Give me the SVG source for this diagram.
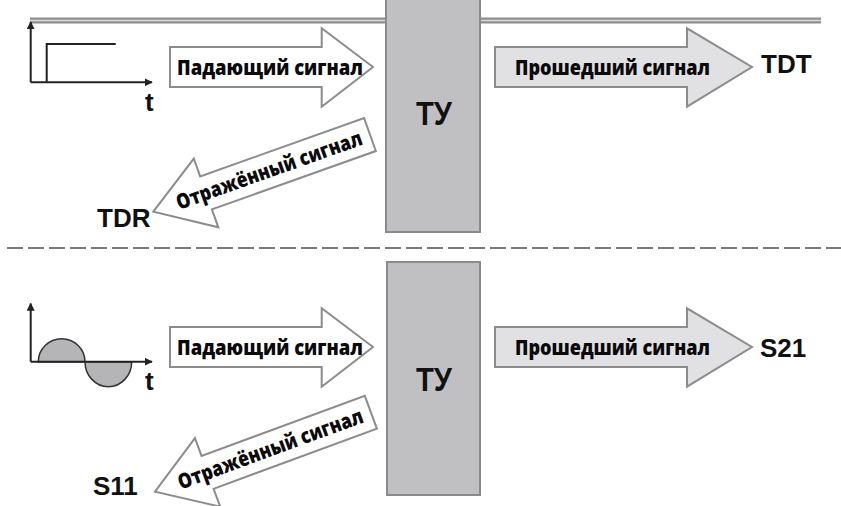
<svg xmlns="http://www.w3.org/2000/svg" width="841" height="506" viewBox="0 0 841 506">
<style>
.box{fill:#c0c0c3;stroke:#8a8a8c;stroke-width:2}
.inc{fill:#ffffff;stroke:#8c8c8c;stroke-width:2;stroke-linejoin:miter}
.trn{fill:#e1e1e3;stroke:#8c8c8c;stroke-width:2;stroke-linejoin:miter}
.lbl{font-family:"Open Sans","Noto Sans","DejaVu Sans",sans-serif;font-weight:800;font-size:21px;fill:#0a0a0a}
.big{font-family:"Liberation Sans",Arial,sans-serif;font-weight:700;font-size:26px;fill:#111}
.tu{font-family:"Liberation Sans",Arial,sans-serif;font-weight:700;font-size:34px;fill:#111}
.ax{fill:none;stroke:#222;stroke-width:2}
.wave{fill:#b5b5b8;stroke:#333;stroke-width:1.5}
</style>
<defs>
<marker id="ah" viewBox="0 0 10 10" refX="9" refY="5" markerWidth="4" markerHeight="4" orient="auto" markerUnits="strokeWidth">
<path d="M0,0 L10,5 L0,10 Z" fill="#222"/>
</marker>
<polygon id="refl" points="0,0 56,-36.5 56,-17.5 230,-17.5 230,17.5 56,17.5 56,36.5"/>
</defs>
<rect width="841" height="506" fill="#ffffff"/>

<g id="line-top">
<line x1="30" y1="20.5" x2="387" y2="20.5" stroke="#8e8e90" stroke-width="6"/>
<line x1="30" y1="20.5" x2="387" y2="20.5" stroke="#dcdcde" stroke-width="1.6"/>
<line x1="480" y1="20.5" x2="821" y2="20.5" stroke="#8e8e90" stroke-width="6"/>
<line x1="480" y1="20.5" x2="821" y2="20.5" stroke="#dcdcde" stroke-width="1.6"/>
</g>
<g id="divider">
<line x1="7" y1="248" x2="841" y2="248" stroke="#7a7a7c" stroke-width="2.2" stroke-dasharray="16 5"/>
</g>

<g id="tu-top">
<rect x="387" y="0" width="93" height="232" fill="#c0c0c3"/>
<path d="M386,0 V232 H480 V0" fill="none" stroke="#8a8a8c" stroke-width="2"/>
<text class="tu" x="434" y="125" text-anchor="middle" textLength="36" lengthAdjust="spacingAndGlyphs">ТУ</text>
</g>
<g id="tu-bottom">
<rect class="box" x="387" y="262" width="93" height="233"/>
<text class="tu" x="434" y="391" text-anchor="middle" textLength="36" lengthAdjust="spacingAndGlyphs">ТУ</text>
</g>

<g id="step-plot">
<path class="ax" d="M30.7,82.3 V22" marker-end="url(#ah)"/>
<path class="ax" d="M30.7,82.3 H152" marker-end="url(#ah)"/>
<path class="ax" d="M46.7,82.3 V44 H115.7"/>
<text class="big" x="145" y="111" font-size="25">t</text>
</g>
<g id="sine-plot">
<path class="wave" d="M38.3,361.7 A23.35,23 0 0 1 85,361.7 Z"/>
<path class="wave" d="M85,361.7 A23.35,25 0 0 0 131.7,361.7 Z"/>
<path class="ax" d="M30.7,361.7 V303.5" marker-end="url(#ah)"/>
<path class="ax" d="M30.7,361.7 H152" marker-end="url(#ah)"/>
<text class="big" x="145" y="390" font-size="25">t</text>
</g>

<g id="connectors">
<g id="inc-top">
<polygon class="inc" points="170,47 321.7,47 321.7,28.3 373,67 321.7,106.7 321.7,87 170,87"/>
<text class="lbl" x="177" y="74.5" textLength="186" lengthAdjust="spacingAndGlyphs">Падающий сигнал</text>
</g>
<g id="trn-top">
<polygon class="trn" points="495,47 687,47 687,28.3 752,67 687,106.7 687,87 495,87"/>
<text class="lbl" x="515" y="74.5" textLength="195" lengthAdjust="spacingAndGlyphs">Прошедший сигнал</text>
</g>
<g id="refl-top" transform="translate(153.3,211.7) rotate(-19.6)">
<use href="#refl" class="inc"/>
<text class="lbl" x="25" y="7" textLength="196" lengthAdjust="spacingAndGlyphs">Отражённый сигнал</text>
</g>
<g id="inc-bottom">
<polygon class="inc" points="170,327 321.7,327 321.7,308.3 373,347 321.7,386.7 321.7,367 170,367"/>
<text class="lbl" x="177" y="354.5" textLength="186" lengthAdjust="spacingAndGlyphs">Падающий сигнал</text>
</g>
<g id="trn-bottom">
<polygon class="trn" points="495,327 687,327 687,308.3 752,347 687,386.7 687,367 495,367"/>
<text class="lbl" x="515" y="354.5" textLength="195" lengthAdjust="spacingAndGlyphs">Прошедший сигнал</text>
</g>
<g id="refl-bottom" transform="translate(155,491.7) rotate(-20.2)">
<use href="#refl" class="inc"/>
<text class="lbl" x="25" y="7" textLength="196" lengthAdjust="spacingAndGlyphs">Отражённый сигнал</text>
</g>
</g>

<g id="labels">
<text class="big" x="761" y="73">TDT</text>
<text class="big" x="97" y="227">TDR</text>
<text class="big" x="760" y="357">S21</text>
<text class="big" x="93" y="495">S11</text>
</g>
</svg>
